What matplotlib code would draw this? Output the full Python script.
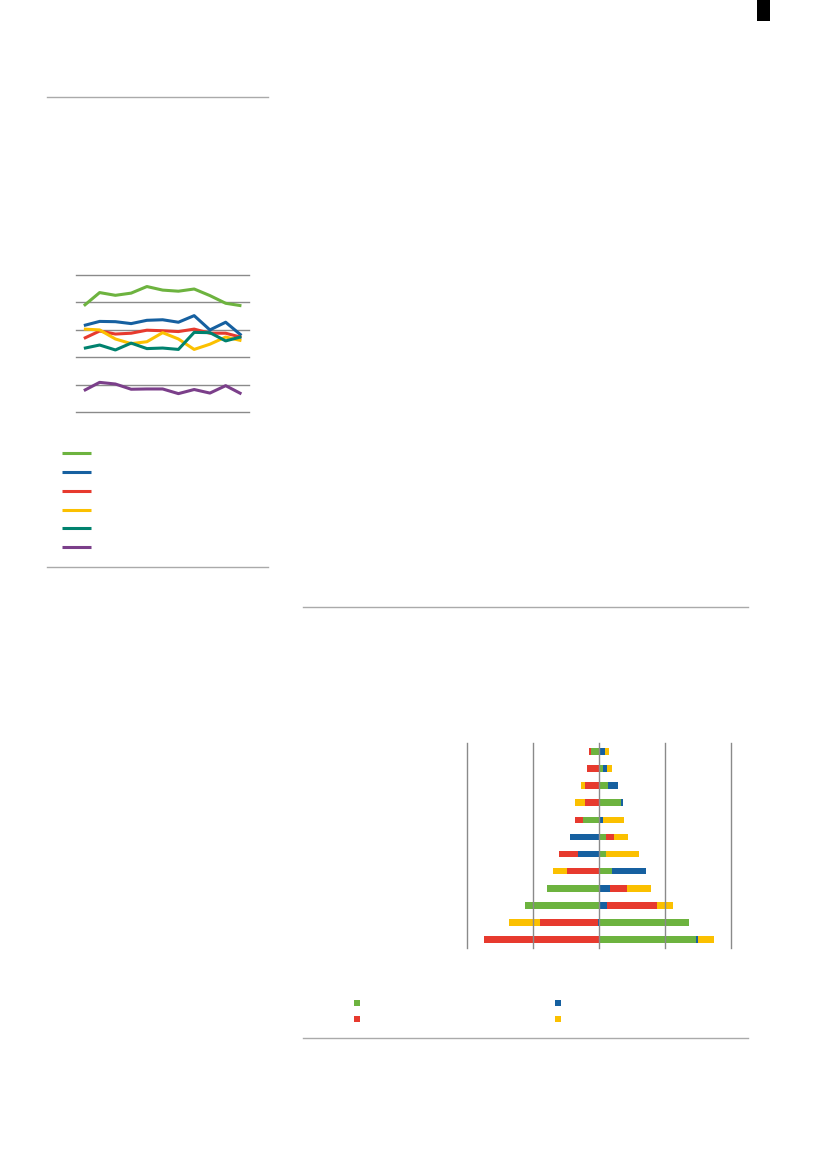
import matplotlib
matplotlib.use("Agg")
import matplotlib.pyplot as plt
import numpy as np

# ---------------- data: line chart ----------------
periods = list(range(11))
line_green = [3.88, 4.36, 4.26, 4.34, 4.58, 4.45, 4.41, 4.49, 4.25, 3.97, 3.88]
line_blue = [3.16, 3.31, 3.30, 3.23, 3.35, 3.37, 3.28, 3.52, 3.00, 3.28, 2.80]
line_red = [2.69, 2.96, 2.85, 2.88, 2.99, 2.97, 2.94, 3.03, 2.88, 2.88, 2.73]
line_yellow = [3.03, 3.00, 2.67, 2.50, 2.57, 2.90, 2.67, 2.29, 2.48, 2.74, 2.61]
line_teal = [2.33, 2.45, 2.27, 2.52, 2.32, 2.34, 2.29, 2.91, 2.90, 2.60, 2.75]
line_purple = [0.79, 1.09, 1.03, 0.84, 0.85, 0.85, 0.68, 0.83, 0.70, 0.97, 0.67]
line_yticks = [0, 1, 2, 3, 4, 5]

# ---------------- data: diverging bar chart ----------------
rows = list(range(12))
bar_green = [-1.31, 0.51, 1.26, 3.28, -2.47, 0.96, 1.01, 1.87, -7.93, -11.26, 13.59, 14.65]
bar_blue = [0.91, 0.71, 1.57, 0.35, 0.56, -4.44, -3.23, 5.15, 1.62, 1.21, -0.25, 0.35]
bar_red = [-0.20, -1.92, -2.17, -2.17, -1.26, 1.31, -2.88, -4.95, 2.58, 7.53, -8.74, -17.42]
bar_yellow = [0.51, 0.71, -0.66, -1.46, 3.18, 2.07, 5.05, -2.12, 3.69, 2.42, -4.65, 2.37]
bar_xticks = [-20, -10, 0, 10, 20]

C_GREEN = "#6db33f"
C_BLUE = "#1660a0"
C_RED = "#e73a2e"
C_YELLOW = "#fbc000"
C_TEAL = "#00826e"
C_PURPLE = "#7b3f8a"
C_GRID = "#8a8a8a"
C_RULE = "#aaaaaa"

W, H = 827, 1169
fig = plt.figure(figsize=(W / 100, H / 100), dpi=100)
fig.patch.set_facecolor("white")


def fig_axes(left, top, right, bottom):
    return fig.add_axes([left / W, 1 - bottom / H, (right - left) / W, (bottom - top) / H])


# ---------------- line chart ----------------
ax1 = fig_axes(76, 275, 249.3, 412.3)
ax1.set_xlim(-0.5, 10.5)
ax1.set_ylim(0, 5)
for yv in line_yticks:
    ax1.axhline(yv, color=C_GRID, lw=1.0, zorder=1, clip_on=False)
series = [(line_green, C_GREEN), (line_blue, C_BLUE), (line_red, C_RED),
          (line_yellow, C_YELLOW), (line_teal, C_TEAL), (line_purple, C_PURPLE)]
for vals, col in series:
    ax1.plot(periods, vals, color=col, lw=2.2, solid_capstyle="butt", zorder=3)
ax1.set_xticks([])
ax1.set_yticks([])
for s in ax1.spines.values():
    s.set_visible(False)
ax1.patch.set_alpha(0)

# ---------------- bar chart ----------------
ax2 = fig_axes(467.3, 743, 731.3, 948)
ax2.set_xlim(-20, 20)
ax2.set_ylim(11.5, -0.5)
pos = np.zeros(len(rows))
neg = np.zeros(len(rows))
for vals, col in [(bar_green, C_GREEN), (bar_blue, C_BLUE), (bar_red, C_RED), (bar_yellow, C_YELLOW)]:
    v = np.array(vals)
    left = np.where(v >= 0, pos, neg)
    ax2.barh(rows, v, left=left, height=0.39, color=col, zorder=2, linewidth=0)
    pos = pos + np.where(v >= 0, v, 0)
    neg = neg + np.where(v < 0, v, 0)
for xv in bar_xticks:
    ax2.axvline(xv, color=C_GRID, lw=1.0, zorder=3, clip_on=False)
ax2.set_xticks([])
ax2.set_yticks([])
for s in ax2.spines.values():
    s.set_visible(False)
ax2.patch.set_alpha(0)

# ---------------- overlay: rules, legends ----------------
ov = fig.add_axes([0, 0, 1, 1], zorder=-1)
ov.set_xlim(0, W)
ov.set_ylim(H, 0)
ov.axis("off")
ov.patch.set_alpha(0)

# horizontal rules
ov.plot([47, 268], [97.3, 97.3], color=C_RULE, lw=1.0)
ov.plot([47, 268], [567.3, 567.3], color=C_RULE, lw=1.0)
ov.plot([303, 748], [607, 607], color=C_RULE, lw=1.0)
ov.plot([303, 748], [1038.3, 1038.3], color=C_RULE, lw=1.0)

# page marker
ov.add_patch(plt.Rectangle((757, 0), 13, 21, color="black", lw=0))

# line legend samples
leg_y = [453.3, 472.3, 491.3, 509.7, 528.3, 547.3]
for (vals, col), yy in zip(series, leg_y):
    ov.plot([62, 91], [yy, yy], color=col, lw=2.2, solid_capstyle="butt")

# bar legend samples
for col, (xx, yy) in zip([C_GREEN, C_BLUE, C_RED, C_YELLOW],
                         [(357.3, 1002.7), (558.3, 1002.7), (357.3, 1019.3), (558.3, 1019.3)]):
    ov.plot([xx], [yy], marker="s", ms=4.0, color=col, mew=0, linestyle="none")

fig.savefig("out.png", dpi=100, facecolor="white")
